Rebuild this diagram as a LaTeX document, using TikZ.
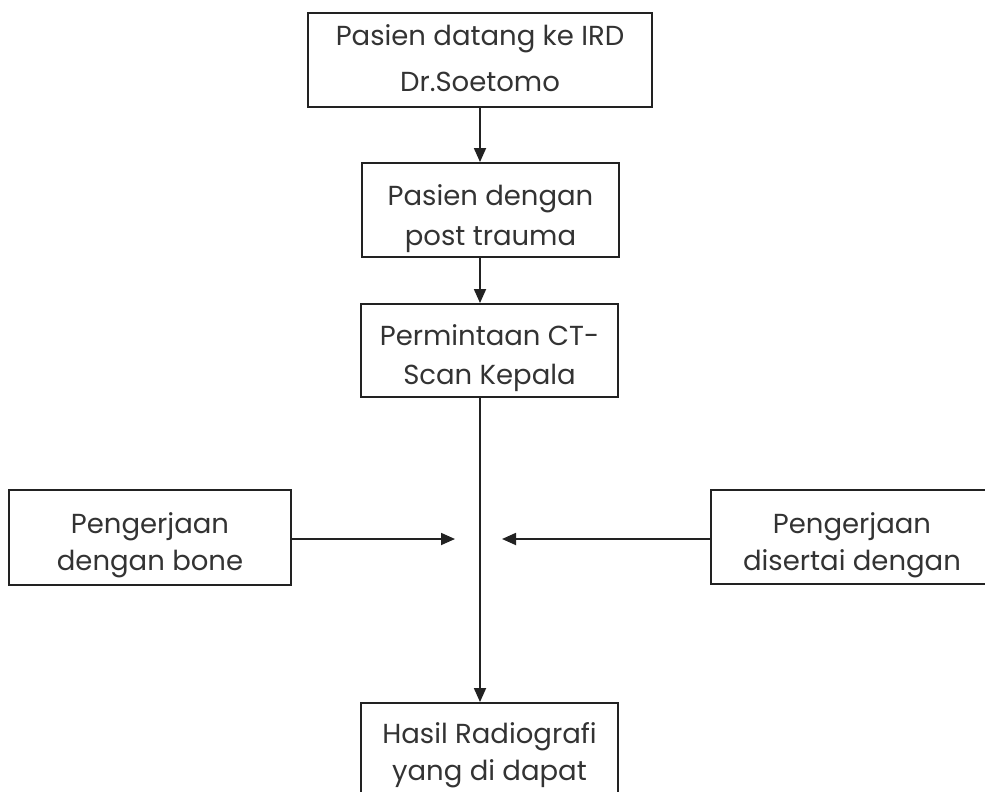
\documentclass[tikz,border=0pt]{standalone}
\usepackage{fontspec}
\setmainfont{Poppins}
\usetikzlibrary{arrows.meta,calc}
\definecolor{linec}{HTML}{222222}
\definecolor{textc}{HTML}{333333}
\newcommand{\twoline}[2]{\begin{tabular}[t]{@{}c@{}}#1\\#2\end{tabular}}
\begin{document}
\begin{tikzpicture}[x=1pt,y=-1pt,
  box/.style n args={4}{draw=linec, line width=1.9pt, minimum width=#1,
    text height=#2, text depth=#3, anchor=base, inner sep=0pt,
    text=textc, font=\fontsize{27.5}{#4}\selectfont},
  arr/.style={draw=linec, line width=1.8pt, -{Triangle[length=14pt,width=12pt]}}]
\useasboundingbox (0,0) rectangle (985,792);
\node[box={344pt}{33pt}{61pt}{46pt}] (top) at (480,46) {\twoline{Pasien datang ke IRD}{Dr.Soetomo}};
\node[box={257pt}{42pt}{52pt}{40pt}] (b2) at (490.5,205) {\twoline{Pasien dengan}{post trauma}};
\node[box={257pt}{41pt}{52pt}{39pt}] (b3) at (489.5,345) {\twoline{Permintaan CT-}{Scan Kepala}};
\node[box={257pt}{40pt}{60pt}{37pt}] (b4) at (489.5,743) {\twoline{Hasil Radiografi}{yang di dapat}};
\node[box={282pt}{43pt}{52pt}{37pt}] (lb) at (150,533) {\twoline{Pengerjaan}{dengan bone}};
\node[box={282pt}{43pt}{51pt}{37pt}] (rb) at (852,533) {\twoline{Pengerjaan}{disertai dengan}};
\coordinate (lend) at (455,539);
\coordinate (rend) at (502,539);
\draw[arr] (top.south) -- (top.south |- b2.north);
\draw[arr] (b2.south -| top.south) -- (b3.north -| top.south);
\draw[arr] (b3.south -| top.south) -- (b4.north -| top.south);
\draw[arr] (lb.east |- lend) -- (lend);
\draw[arr] (rb.west |- rend) -- (rend);
\end{tikzpicture}
\end{document}
